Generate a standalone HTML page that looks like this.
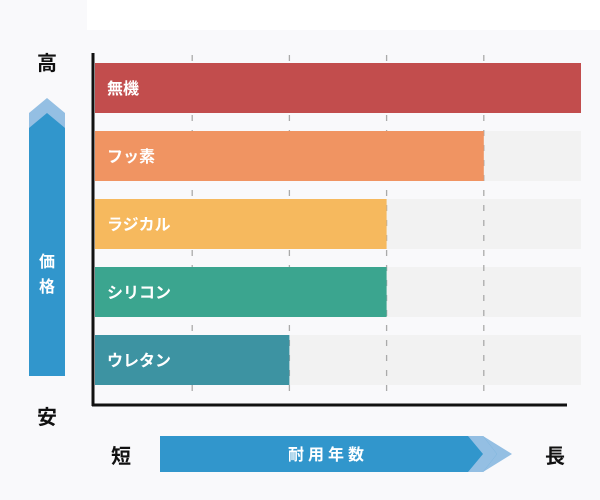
<!DOCTYPE html>
<html><head><meta charset="utf-8"><style>
body{margin:0;width:600px;height:500px;background:#f9f9fb;overflow:hidden;font-family:"Liberation Sans","Noto Sans CJK JP",sans-serif}
</style></head><body>
<svg width="600" height="500" style="display:block">
<rect x="87" y="0" width="513" height="30" fill="#ffffff"/>
<g id="plot"></g>
<line x1="93" y1="53" x2="93" y2="406" stroke="#111" stroke-width="3"/>
<line x1="92" y1="405" x2="567" y2="405" stroke="#111" stroke-width="3"/>
<text x="47" y="70" font-size="20" font-weight="bold" text-anchor="middle" fill="#111">高</text>
<text x="47" y="424" font-size="20" font-weight="bold" text-anchor="middle" fill="#111">安</text>
<g>
<polygon points="29,113 47,98 65,113 65,376 29,376" fill="#94bfe3"/>
<polygon points="29,128 47,113 65,128 65,376 29,376" fill="#3196cc"/>
<text x="47" y="267" font-size="16" font-weight="bold" fill="#fff" text-anchor="middle">価</text>
<text x="47" y="292" font-size="16" font-weight="bold" fill="#fff" text-anchor="middle">格</text>
</g>
<text x="121" y="463" font-size="20" font-weight="bold" text-anchor="middle" fill="#111">短</text>
<text x="555" y="463" font-size="20" font-weight="bold" text-anchor="middle" fill="#111">長</text>
<g>
<polygon points="160,436 483,436 512,454 483,472 160,472" fill="#94bfe3"/>
<polygon points="160,436 483,436 497,454 483,472 160,472" fill="#3196cc"/>
<polygon points="483,436 497,454 483,472 468,472 483,454 468,436" fill="#94bfe3"/>
<text x="328" y="460" font-size="16" font-weight="bold" fill="#fff" text-anchor="middle" letter-spacing="4">耐用年数</text>
</g>
</svg>
<script>
const categories=["無機","フッ素","ラジカル","シリコン","ウレタン"];
const values=[5,4,3,3,2];
const colors=["#c24d4d","#f09462","#f6b95e","#3ba58f","#3d93a2"];
const maxV=5;
const gridTicks=[1,2,3,4];
const x0=95,x1=581,top0=63,step=68,bh=50;
const xs=v=>x0+(x1-x0)*v/maxV;
const g=document.getElementById('plot');
const NS='http://www.w3.org/2000/svg';
function mk(t,a){const e=document.createElementNS(NS,t);for(const k in a)e.setAttribute(k,a[k]);g.appendChild(e);return e;}
categories.forEach((c,i)=>{const t=mk('rect',{x:x0,y:top0+i*step,width:x1-x0,height:bh,fill:'#f2f2f2'});

});
gridTicks.forEach(v=>{const l=mk('line',{x1:xs(v),x2:xs(v),y1:55,y2:400,stroke:'#aaa','stroke-width':1.3,'stroke-dasharray':'6,9'});

});
categories.forEach((c,i)=>{const y=top0+i*step;
const r=mk('rect',{x:x0,y:y,width:xs(values[i])-x0,height:bh,fill:colors[i]});


const t=mk('text',{x:107,y:y+bh/2+6,'font-size':16,'font-weight':'bold',fill:'#fff'});t.textContent=c;

});
</script>
</body></html>
